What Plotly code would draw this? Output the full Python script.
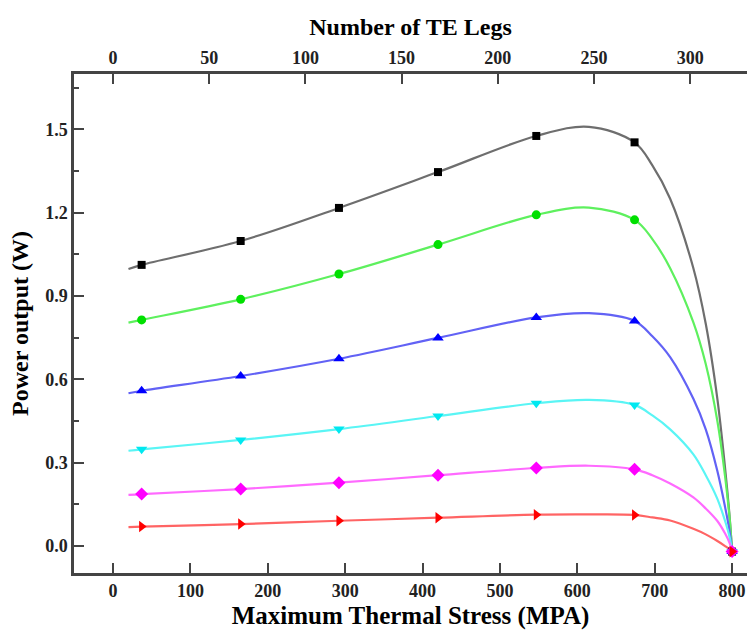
import plotly.graph_objects as go

# Marker positions (Maximum Thermal Stress, MPA)
stress_pts = [37, 165, 292, 420, 547, 674, 800]
# Extra points (start, peak, steep drop)
stress_extra = [20, 615, 697, 720, 750, 766, 781, 791, 797]

# Power output (W) at the markers
p_black = [1.012, 1.098, 1.217, 1.346, 1.476, 1.453, -0.02]
p_green = [0.814, 0.888, 0.979, 1.085, 1.192, 1.174, -0.02]
p_blue = [0.559, 0.612, 0.674, 0.749, 0.823, 0.810, -0.02]
p_cyan = [0.348, 0.382, 0.421, 0.468, 0.514, 0.508, -0.02]
p_magenta = [0.187, 0.205, 0.228, 0.255, 0.281, 0.276, -0.02]
p_red = [0.070, 0.079, 0.091, 0.102, 0.113, 0.112, -0.02]

# Curve values at stress_extra
e_black = [0.997, 1.509, 1.370, 1.250, 1.000, 0.800, 0.530, 0.280, 0.100]
e_green = [0.804, 1.218, 1.105, 1.000, 0.805, 0.655, 0.450, 0.250, 0.095]
e_blue = [0.550, 0.838, 0.755, 0.680, 0.530, 0.420, 0.270, 0.140, 0.050]
e_cyan = [0.343, 0.526, 0.470, 0.420, 0.330, 0.255, 0.170, 0.090, 0.030]
e_magenta = [0.184, 0.289, 0.255, 0.225, 0.175, 0.135, 0.090, 0.045, 0.010]
e_red = [0.068, 0.114, 0.103, 0.092, 0.062, 0.042, 0.018, 0.000, -0.012]

x_ticks = [0, 100, 200, 300, 400, 500, 600, 700, 800]
legs_ticks = [0, 50, 100, 150, 200, 250, 300]
y_ticks = [0.0, 0.3, 0.6, 0.9, 1.2, 1.5]

series = [
    (p_black, e_black, "#6e6e6e", "#000000", "square", 8),
    (p_green, e_green, "#5ef05e", "#00e000", "circle", 9),
    (p_blue, e_blue, "#6262f5", "#0000ff", "triangle-up", 10),
    (p_cyan, e_cyan, "#5af5f5", "#00e8f0", "triangle-down", 10),
    (p_magenta, e_magenta, "#ff6aff", "#ff00ff", "diamond", 10),
    (p_red, e_red, "#ff6464", "#ff0000", "triangle-right", 10),
]

fig = go.Figure()
for pts, extra, lcol, mcol, sym, msz in series:
    pairs = sorted(list(zip(stress_pts, pts)) + list(zip(stress_extra, extra)))
    fig.add_trace(go.Scatter(
        x=[p[0] for p in pairs], y=[p[1] for p in pairs], mode="lines",
        line=dict(color=lcol, width=2.2, shape="spline", smoothing=1.0),
        hoverinfo="skip", showlegend=False))
for pts, extra, lcol, mcol, sym, msz in series:
    fig.add_trace(go.Scatter(
        x=stress_pts, y=pts, mode="markers",
        marker=dict(symbol=sym, size=msz, color=mcol),
        showlegend=False))

# invisible trace to activate the top axis
fig.add_trace(go.Scatter(x=[0], y=[0], xaxis="x2", mode="markers",
                         marker=dict(opacity=0), hoverinfo="skip", showlegend=False))

font_family = "Liberation Serif, Times New Roman, serif"
axis_col = "#444444"
tick_font = dict(family=font_family, size=18, color="#222222", weight="bold")
title_font = dict(family=font_family, size=24, color="#000000", weight="bold")

fig.update_layout(
    width=747, height=630,
    margin=dict(l=74, r=0, t=74, b=57),
    paper_bgcolor="white", plot_bgcolor="white",
    xaxis=dict(
        range=[-50.4, 819.3], tickvals=x_ticks, ticktext=[str(v) for v in x_ticks],
        ticks="inside", ticklen=10, tickwidth=2, tickcolor=axis_col,
        showline=True, linecolor=axis_col, linewidth=2.5, showgrid=False, zeroline=False,
        tickfont=tick_font,
        title=dict(text="Maximum Thermal Stress (MPA)", font=dict(title_font, size=25), standoff=7),
    ),
    xaxis2=dict(
        overlaying="x", side="top", anchor="y",
        range=[-20.27, 329.5], tickvals=legs_ticks, ticktext=[str(v) for v in legs_ticks],
        ticks="inside", ticklen=10, tickwidth=2, tickcolor=axis_col,
        showline=True, linecolor=axis_col, linewidth=2.5, showgrid=False, zeroline=False,
        tickfont=tick_font,
        title=dict(text="Number of TE Legs", font=title_font, standoff=6),
    ),
    yaxis=dict(
        range=[-0.097, 1.699], tickvals=y_ticks, ticktext=["%.1f" % v for v in y_ticks],
        ticks="inside", ticklen=10, tickwidth=2, tickcolor=axis_col,
        minor=dict(dtick=0.15, tick0=0, ticks="inside", ticklen=5, tickwidth=2, tickcolor=axis_col),
        showline=True, linecolor=axis_col, linewidth=2.5, showgrid=False, zeroline=False,
        tickfont=tick_font,
        title=dict(text="Power output (W)", font=title_font, standoff=10),
    ),
)

fig.write_html("out.html")
